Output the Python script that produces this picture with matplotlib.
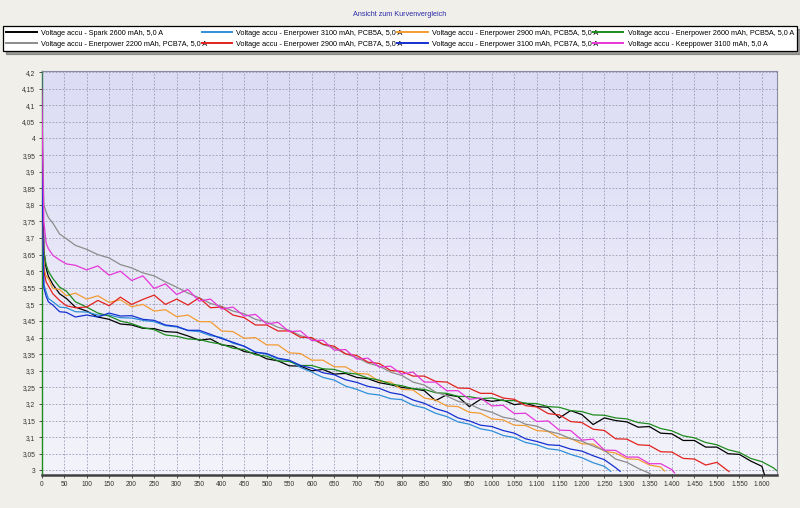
import numpy as np
import matplotlib as mpl
mpl.use('Agg')
import matplotlib.pyplot as plt
from matplotlib.ticker import MultipleLocator, FuncFormatter

mpl.rcParams['font.family'] = 'Liberation Sans'

# shared time grid (s); the first point is doubled so a curve can start with a jump
time_grid = [0, 0, 2, 5, 10, 15, 25, 40, 55, 75,
             100, 125, 150, 175, 200, 225, 250, 275, 300, 325,
             350, 375, 400, 425, 450, 475, 500, 525, 550, 575,
             600, 625, 650, 675, 700, 725, 750, 775, 800, 825,
             850, 875, 900, 925, 950, 975, 1000, 1025, 1050, 1075,
             1100, 1125, 1150, 1175, 1200, 1225, 1250, 1275, 1300, 1325,
             1350, 1375, 1400, 1425, 1450, 1475, 1500, 1525, 1550, 1575,
             1600, 1625]

v_spark2600 = [4.18, 4.15, 3.90, 3.66, 3.61, 3.585, 3.56, 3.532, 3.518, 3.492,
               3.480, 3.462, 3.455, 3.441, 3.438, 3.428, 3.427, 3.418, 3.416, 3.405,
               3.392, 3.396, 3.378, 3.374, 3.358, 3.352, 3.336, 3.330, 3.315, 3.314,
               3.300, 3.304, 3.290, 3.292, 3.280, 3.276, 3.264, 3.258, 3.250, 3.246,
               3.240, 3.210, 3.228, 3.222, 3.192, 3.214, 3.208, 3.212, 3.198, 3.202,
               3.192, 3.190, 3.158, 3.180, 3.168, 3.138, 3.158, 3.150, 3.146, 3.130,
               3.132, 3.112, 3.110, 3.090, 3.090, 3.070, 3.070, 3.050, 3.048, 3.028,
               3.012]
end_spark2600 = (1606, 2.985)

v_ener3100_5a = [4.20, 4.20, 3.75, 3.56, 3.538, 3.518, 3.508, 3.492, 3.490, 3.478,
                 3.477, 3.468, 3.468, 3.460, 3.459, 3.452, 3.448, 3.436, 3.432, 3.421,
                 3.418, 3.406, 3.400, 3.383, 3.374, 3.356, 3.350, 3.336, 3.331, 3.310,
                 3.296, 3.280, 3.272, 3.254, 3.244, 3.231, 3.227, 3.216, 3.213, 3.196,
                 3.188, 3.172, 3.162, 3.146, 3.139, 3.125, 3.119, 3.105, 3.099, 3.084,
                 3.077, 3.065, 3.061, 3.048, 3.038, 3.023, 3.012]
end_ener3100_5a = (1264, 2.997)

v_ener2900_5a = [4.20, 4.18, 3.80, 3.61, 3.585, 3.578, 3.548, 3.545, 3.526, 3.534,
                 3.516, 3.526, 3.506, 3.514, 3.493, 3.500, 3.480, 3.484, 3.463, 3.468,
                 3.448, 3.448, 3.420, 3.418, 3.398, 3.400, 3.378, 3.378, 3.354, 3.352,
                 3.332, 3.332, 3.312, 3.312, 3.292, 3.290, 3.268, 3.266, 3.244, 3.242,
                 3.218, 3.212, 3.194, 3.192, 3.175, 3.172, 3.155, 3.152, 3.136, 3.135,
                 3.120, 3.117, 3.098, 3.096, 3.080, 3.079, 3.058, 3.052, 3.035, 3.033,
                 3.016, 3.010]
end_ener2900_5a = (1384, 2.998)

v_ener2600_5a = [2.90, 4.20, 3.85, 3.66, 3.62, 3.60, 3.578, 3.552, 3.540, 3.508,
                 3.492, 3.474, 3.465, 3.450, 3.442, 3.430, 3.424, 3.408, 3.404, 3.396,
                 3.394, 3.386, 3.380, 3.368, 3.364, 3.348, 3.344, 3.330, 3.328, 3.316,
                 3.316, 3.306, 3.304, 3.294, 3.290, 3.278, 3.272, 3.260, 3.255, 3.246,
                 3.244, 3.234, 3.232, 3.223, 3.222, 3.216, 3.218, 3.210, 3.210, 3.202,
                 3.201, 3.192, 3.190, 3.180, 3.177, 3.167, 3.166, 3.158, 3.155, 3.144,
                 3.140, 3.126, 3.119, 3.104, 3.098, 3.084, 3.077, 3.062, 3.054, 3.036,
                 3.026, 3.008]
end_ener2600_5a = (1634, 2.998)

v_ener2200_7a = [4.20, 4.20, 4.00, 3.80, 3.778, 3.762, 3.745, 3.712, 3.698, 3.678,
                 3.666, 3.650, 3.640, 3.620, 3.610, 3.595, 3.586, 3.568, 3.552, 3.534,
                 3.520, 3.503, 3.494, 3.480, 3.472, 3.455, 3.447, 3.431, 3.422, 3.406,
                 3.396, 3.379, 3.369, 3.351, 3.340, 3.323, 3.314, 3.296, 3.286, 3.266,
                 3.257, 3.236, 3.224, 3.208, 3.200, 3.184, 3.175, 3.160, 3.154, 3.139,
                 3.133, 3.118, 3.110, 3.095, 3.088, 3.073, 3.060, 3.034, 3.024, 3.006]
end_ener2200_7a = (1352, 2.990)

v_ener2900_7a = [4.15, 4.15, 3.90, 3.60, 3.568, 3.556, 3.532, 3.512, 3.496, 3.490,
                 3.492, 3.512, 3.496, 3.522, 3.500, 3.515, 3.528, 3.500, 3.516, 3.498,
                 3.520, 3.490, 3.492, 3.468, 3.460, 3.438, 3.438, 3.420, 3.420, 3.401,
                 3.400, 3.380, 3.374, 3.351, 3.346, 3.326, 3.322, 3.301, 3.298, 3.284,
                 3.284, 3.268, 3.266, 3.248, 3.247, 3.232, 3.232, 3.218, 3.214, 3.195,
                 3.191, 3.171, 3.167, 3.147, 3.144, 3.124, 3.120, 3.095, 3.094, 3.077,
                 3.075, 3.056, 3.055, 3.036, 3.034, 3.016, 3.024]
end_ener2900_7a = (1527, 2.996)

v_ener3100_7a = [4.20, 4.18, 3.80, 3.55, 3.525, 3.508, 3.498, 3.478, 3.476, 3.462,
                 3.468, 3.462, 3.474, 3.465, 3.466, 3.455, 3.452, 3.438, 3.434, 3.422,
                 3.422, 3.410, 3.397, 3.386, 3.374, 3.356, 3.352, 3.338, 3.332, 3.316,
                 3.308, 3.294, 3.288, 3.273, 3.265, 3.253, 3.247, 3.234, 3.228, 3.212,
                 3.202, 3.186, 3.176, 3.158, 3.149, 3.136, 3.132, 3.120, 3.112, 3.095,
                 3.087, 3.077, 3.075, 3.064, 3.058, 3.044, 3.032, 3.008]
end_ener3100_7a = (1285, 2.997)

v_keep3100 = [4.15, 4.15, 4.00, 3.75, 3.685, 3.668, 3.648, 3.634, 3.622, 3.618,
              3.604, 3.616, 3.588, 3.600, 3.572, 3.586, 3.548, 3.562, 3.530, 3.545,
              3.510, 3.516, 3.486, 3.492, 3.465, 3.470, 3.441, 3.446, 3.418, 3.420,
              3.391, 3.392, 3.362, 3.364, 3.335, 3.338, 3.311, 3.314, 3.290, 3.296,
              3.266, 3.266, 3.240, 3.240, 3.214, 3.218, 3.194, 3.196, 3.171, 3.172,
              3.147, 3.149, 3.121, 3.120, 3.091, 3.094, 3.061, 3.060, 3.040, 3.040,
              3.020, 3.020, 3.002]
end_keep3100 = (1406, 2.992)

series = [
    ('Voltage accu - Spark 2600 mAh, 5,0 A', '#000000', v_spark2600, end_spark2600),
    ('Voltage accu - Enerpower 3100 mAh, PCB5A, 5,0 A', '#2f8fd8', v_ener3100_5a, end_ener3100_5a),
    ('Voltage accu - Enerpower 2900 mAh, PCB5A, 5,0 A', '#f39c32', v_ener2900_5a, end_ener2900_5a),
    ('Voltage accu - Enerpower 2600 mAh, PCB5A, 5,0 A', '#1e8c1e', v_ener2600_5a, end_ener2600_5a),
    ('Voltage accu - Enerpower 2200 mAh, PCB7A, 5,0 A', '#8c8c8c', v_ener2200_7a, end_ener2200_7a),
    ('Voltage accu - Enerpower 2900 mAh, PCB7A, 5,0 A', '#e3221e', v_ener2900_7a, end_ener2900_7a),
    ('Voltage accu - Enerpower 3100 mAh, PCB7A, 5,0 A', '#1530d0', v_ener3100_7a, end_ener3100_7a),
    ('Voltage accu - Keeppower 3100 mAh, 5,0 A', '#e636d8', v_keep3100, end_keep3100),
]

fig = plt.figure(figsize=(8, 5.08), dpi=100)
fig.patch.set_facecolor('#f0efea')
ax = fig.add_axes([0.052, 0.065, 0.919, 0.795])

xmin, xmax, ymin, ymax = 0, 1633, 2.986, 4.203

# lavender gradient behind the curves
grad = np.linspace(0, 1, 256).reshape(-1, 1)
cmap = mpl.colors.LinearSegmentedColormap.from_list('bg', ['#dcdcf5', '#f3f3fb'])
ax.imshow(grad, extent=(xmin, xmax, ymin, ymax), aspect='auto', cmap=cmap,
          origin='upper', zorder=0, interpolation='bicubic')

handles = []
for label, color, v, end in series:
    x = time_grid[:len(v)] + [end[0]]
    y = v + [end[1]]
    h, = ax.plot(x, y, color=color, lw=0.9, label=label, zorder=3)
    handles.append(h)

ax.set_xlim(xmin, xmax)
ax.set_ylim(ymin, ymax)

ax.xaxis.set_major_locator(MultipleLocator(50))
ax.yaxis.set_major_locator(MultipleLocator(0.05))
ax.xaxis.set_major_formatter(FuncFormatter(lambda v, p: f'{int(round(v)):,}'.replace(',', '.')))
ax.yaxis.set_major_formatter(FuncFormatter(
    lambda v, p: f'{v:.2f}'.rstrip('0').rstrip('.').replace('.', ',')))
ax.tick_params('both', labelsize=4.8, length=2.5, width=0.6, colors='#333333', pad=2)

ax.grid(True, color='#9a9ab4', lw=0.6, ls=(0, (2, 2)), zorder=1)
ax.set_axisbelow(True)

for s in ['top', 'right']:
    ax.spines[s].set_color('#8a8aa0')
    ax.spines[s].set_linewidth(0.8)
ax.spines['bottom'].set_color('#404040')
ax.spines['bottom'].set_linewidth(1.8)
ax.spines['left'].set_color('#1e8c1e')
ax.spines['left'].set_linewidth(1.0)

fig.text(0.5, 1 - 15 / 508, 'Ansicht zum Kurvenvergleich', ha='center', va='center',
         fontsize=5.2, color='#2a2aa8')

# legend fills column-wise, reference reads row-wise
order = [0, 4, 1, 5, 2, 6, 3, 7]
leg = fig.legend([handles[i] for i in order], [series[i][0] for i in order],
                 ncol=4, loc='lower left', mode='expand',
                 bbox_to_anchor=(3 / 800, 1 - 51 / 508, 794 / 800, 24 / 508),
                 borderaxespad=0,
                 fontsize=5.2, handlelength=4.2, handletextpad=0.6,
                 columnspacing=0.5, labelspacing=0.55, borderpad=0.45,
                 fancybox=False, shadow=True, framealpha=1, edgecolor='black')
leg.get_frame().set_linewidth(0.9)
for line in leg.get_lines():
    line.set_linewidth(1.4)

fig.savefig('out.png', dpi=100, facecolor=fig.get_facecolor())
